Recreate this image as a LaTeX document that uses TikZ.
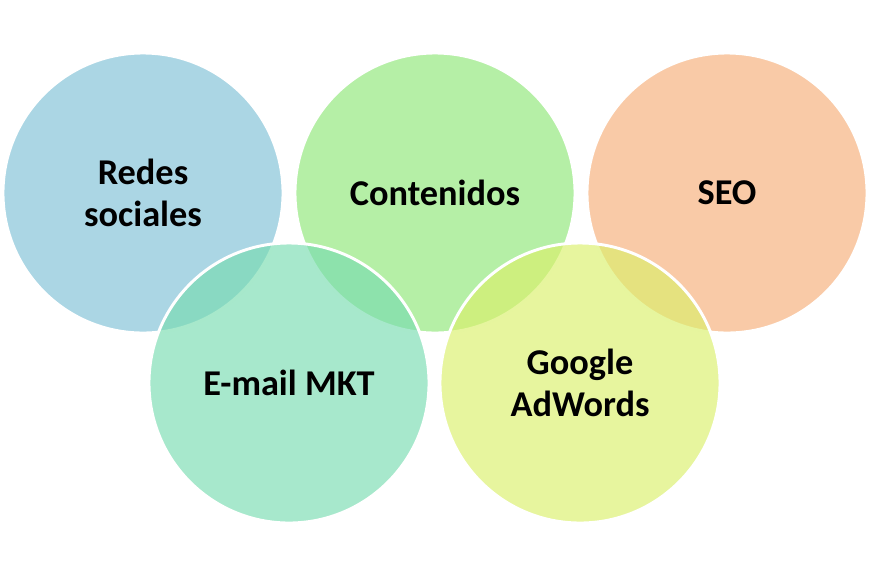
\documentclass[tikz,border=0pt]{standalone}
\usepackage{fontspec}
\setmainfont{Carlito}
\usetikzlibrary{positioning}
\definecolor{ring_blue}{HTML}{7EC0D6}
\definecolor{ring_green}{HTML}{8EE676}
\definecolor{ring_orange}{HTML}{F6AE78}
\definecolor{ring_teal}{HTML}{78DCB0}
\definecolor{ring_yellow}{HTML}{DAF06A}

\begin{document}
\begin{tikzpicture}[
	    x=0.03cm, y=-0.03cm,
	    ring/.style={circle, minimum size=8.4cm, draw=white, line width=2.5pt,
	        fill opacity=0.65, text opacity=1, align=center,
	        font=\fontsize{31}{36}\selectfont\bfseries},
	]
    \useasboundingbox (0,0) rectangle (870,578);
	% Top row
    \node[ring, fill=ring_blue] (redes) at (143,193) {Redes\\sociales};
    \node[ring, fill=ring_green] (contenidos) at (435,193) {Contenidos};
    \node[ring, fill=ring_orange] (seo) at (727,193) {SEO};
    % Bottom row
    \node[ring, fill=ring_teal] (email) at (289,383) {E-mail MKT};
    \node[ring, fill=ring_yellow] (adwords) at (580,383) {Google\\AdWords};
\end{tikzpicture}
\end{document}
